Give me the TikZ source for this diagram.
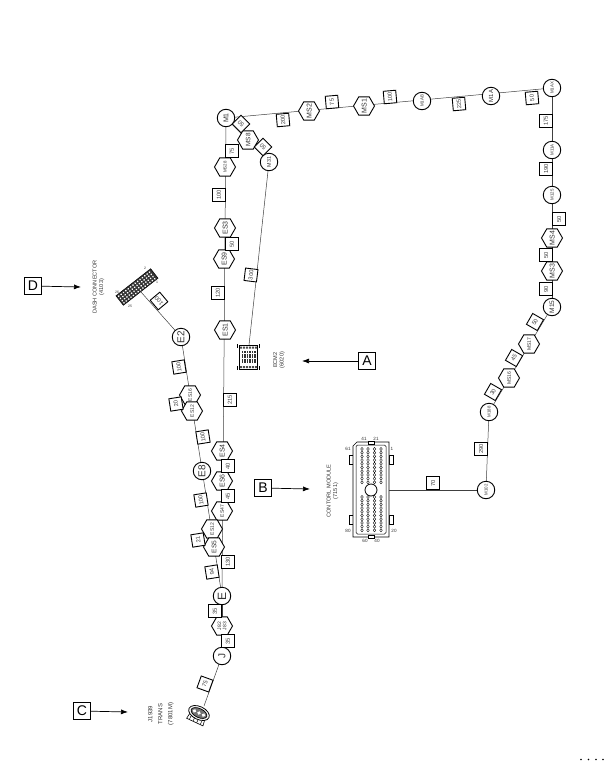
\documentclass[tikz,border=0pt]{standalone}
\usepackage{fontspec}
\setmainfont{Liberation Sans}
\usetikzlibrary{shapes.geometric,backgrounds,arrows.meta}
\newcommand\hx[1]{\makebox[0pt]{\raisebox{-0.69ex}[0pt][0pt]{#1}}}
\tikzset{
  x=1pt,y=-1pt,
  wire/.style={line width=0.5pt,draw=black!75},
  tagbox/.style={draw,line width=0.9pt,fill=white,minimum size=12.5pt,inner sep=0pt,font=\fontsize{5.8}{6}\selectfont,text=black!75},
  circ/.style={circle,draw,line width=0.9pt,fill=white,minimum size=17.5pt,inner sep=0pt,rotate=90,text=black!80},
  hexa/.style={regular polygon,regular polygon sides=6,regular polygon rotate=30,draw,line width=0.9pt,fill=white,minimum size=21pt,inner sep=0pt,rotate=90,text=black!80},
  big/.style={font=\fontsize{10}{11}\selectfont},
  med/.style={font=\fontsize{7}{8}\selectfont},
  sml/.style={font=\fontsize{4.4}{5}\selectfont},
  callout/.style={draw,line width=0.9pt,fill=white,minimum size=17pt,inner sep=0pt,font=\fontsize{14}{15}\selectfont},
  pointer/.style={line width=0.7pt,-{Latex[length=7pt,width=5pt]}},
  caption/.style={rotate=90,align=center,font=\fontsize{5.6}{6.6}\selectfont,text=black!80},
  pinlabel/.style={font=\fontsize{4.6}{5}\selectfont,text=black!80,inner sep=0pt}
}
\begin{document}
\begin{tikzpicture}
\useasboundingbox (0,0) rectangle (610,761);
% top run
\node[circ,med] (M1) at (226,118) {M1};
\node[hexa,sml,font=\fontsize{6.4}{7}\selectfont] (MS8) at (248,140) {\hx{MS8}};
\node[circ,sml,font=\fontsize{5.4}{6}\selectfont] (M31) at (269,162) {M31};
\node[hexa,med] (MS2) at (309,111) {\hx{MS2}};
\node[hexa,med] (MS1) at (364,106) {\hx{MS1}};
\node[circ,sml] (M1AB) at (422,101) {M1AB};
\node[circ,med,font=\fontsize{6}{7}\selectfont] (M1A) at (491,96) {M1A};
\node[circ,sml] (M1AX) at (552,88) {M1AX};
% right run
\node[circ,sml] (M11A) at (552,150) {M11A};
\node[circ,sml] (M12B) at (552,195) {M125};
\node[hexa,med] (MS4) at (552,238) {\hx{MS4}};
\node[hexa,med] (MS3) at (552,271) {\hx{MS3}};
\node[circ,med,font=\fontsize{6.5}{7}\selectfont] (M15) at (552,307) {M15};
\node[hexa,sml,font=\fontsize{5}{6}\selectfont] (MS17) at (529,344) {\hx{MS17}};
\node[hexa,sml,font=\fontsize{5}{6}\selectfont] (MS16) at (509,378) {\hx{MS16}};
\node[circ,sml] (M188) at (489,412) {M188};
\node[circ,sml] (M102) at (486,490) {M102};
% main trunk
\node[hexa,sml] (MS28) at (225,167) {\hx{MS28}};
\node[hexa,med] (ES3) at (225,228) {\hx{ES3}};
\node[hexa,med] (ES9) at (224,259) {\hx{ES9}};
\node[hexa,med] (ES1) at (225,330) {\hx{ES1}};
\node[hexa,med] (ES4) at (222,451) {\hx{ES4}};
\node[hexa,med] (ES6) at (222,481) {\hx{ES6}};
\node[hexa,sml,font=\fontsize{5}{6}\selectfont] (ES47) at (222,511) {\hx{ES47}};
\node[circ,big,font=\fontsize{12}{13}\selectfont] (E) at (222,596) {E};
\node[hexa,font=\fontsize{5}{5.4}\selectfont,align=center] (J82) at (222,626) {J82\\J83};
\node[circ,big] (J) at (222,656) {J};
% branch to dash
\node[hexa,sml,font=\fontsize{5}{6}\selectfont] (ES12b) at (212,529) {\hx{ES12}};
\node[hexa,med,font=\fontsize{6.6}{7}\selectfont] (ES5) at (214,547) {\hx{ES5}};
\node[circ,big] (E8) at (202,471) {E8};
\node[hexa,sml,font=\fontsize{5}{6}\selectfont] (ES16) at (190,395) {\hx{ES16}};
\node[hexa,sml,font=\fontsize{5}{6}\selectfont] (ES12) at (192,411) {\hx{ES12}};
\node[circ,big] (E2) at (181,337) {E2};
% length tags
\foreach \nm/\px/\py/\rt/\tx in {
 a1/241/124/135/50, a2/263/147/135/50, a3/232/151/90/75, a4/219/195/90/100, a5/232/244/90/50,
 a6/283/120/95/200, a7/332/102/95/75, a8/390/97/95/100, a9/251/275/83/300, a10/459/104/95/225,
 a11/532/98/95/50, a12/546/121/90/175, a13/546/169/90/190, a14/559/219/90/50, a15/546/255/90/50,
 a16/546/289/90/90, a17/535/322/60/50, a18/514/358/60/45, a19/493/392/60/30, a20/481/449/90/290,
 a21/433/483/90/70, a22/159/301/130/100, a23/179/367/99/100, a24/176/404/99/20, a25/203/437/99/100,
 a26/230/400/90/215, a27/228/466/90/40, a28/218/293/90/120, a29/228/496/90/45, a30/201/500/99/100,
 a31/198/540/99/21, a32/228/562/90/130, a33/212/572/99/94, a34/215/611/90/35, a35/228/641/90/35,
 a36/205/684/70/75}
 {\node[tagbox,rotate=\rt] (\nm) at (\px,\py) {\tx};}
% callouts
\node[callout] (boxA) at (367,361) {A};
\coordinate (tipA) at (302,361);
\node[callout] (boxB) at (263,488) {B};
\coordinate (tipB) at (310,489);
\node[callout] (boxC) at (82,711) {C};
\coordinate (tipC) at (128,712);
\node[callout] (boxD) at (33,286) {D};
\coordinate (tipD) at (81,287);
\draw[pointer] (boxA) -- (tipA);
\draw[pointer] (boxB) -- (tipB);
\draw[pointer] (boxC) -- (tipC);
\draw[pointer] (boxD) -- (tipD);
% captions
\node[caption] (capD) at (98.5,287) {DASH CONNECTOR\\(4103)};
\node[caption] (capE) at (279,360) {ECM2\\(6020)};
\node[caption] (capB) at (332.5,491) {CONTORL MODULE\\(7151)};
\node[caption,font=\fontsize{6}{10}\selectfont] (capC) at (161,714) {J1939\\TRANS\\(7801M)};
% control module
\coordinate (cmR) at (389,490);
\draw[line width=0.6pt,fill=white] (349,455) rectangle (353,464) (349,515) rectangle (353,524) (389,455) rectangle (393,464) (389,515) rectangle (393,524);
\draw[line width=0.6pt,fill=white] (357,442) -- (389,442) -- (389,537) -- (353,537) -- (353,446) -- cycle;
\draw[line width=0.5pt,rounded corners=1.5pt] (356,445) rectangle (386,534);
\draw[line width=0.5pt,fill=white] (368,441) rectangle (374,444) (368,535) rectangle (374,538);
\foreach \cx in {362,368,374.5,381}{
  \foreach \cy in {449,452.7,456.4,460.1,463.8,467.5,471.2,474.9,478.6,482.3,497,500.7,504.4,508.1,511.8,515.5,519.2,522.9,526.6,530.3}
    \draw[line width=0.35pt] (\cx,\cy) ellipse (1.3 and 1.6);
}
\node[circle,draw,line width=0.8pt,fill=white,minimum size=12pt,inner sep=0pt] (cmHub) at (371,490) {};
\node[pinlabel] (p41) at (364,439) {41};
\node[pinlabel] (p21) at (376,439) {21};
\node[pinlabel] (p61) at (348,449) {61};
\node[pinlabel] (p1) at (392,449) {1};
\node[pinlabel] (p80) at (348,531) {80};
\node[pinlabel] (p20) at (394,531) {20};
\node[pinlabel] (p60) at (365,541) {60};
\node[pinlabel] (p40) at (377,541) {40};
% ECM2 connector
\coordinate (ecmTop) at (249,345);
\begin{scope}[shift={(248,357)}]
\draw[line width=0.5pt] (-9,-12) rectangle (9,12);
\draw[line width=0.5pt] (-11,-13) -- (-11,-9) (11,-13) -- (11,-9) (-11,9) -- (-11,13) (11,9) -- (11,13);
\foreach \i in {-6.5,-4,...,7}{\foreach \j in {-6,-3.4,...,7}{
  \fill[black!80] (\i,\j) rectangle +(1.9,2);}}
\foreach \i in {-8,-5,...,7}{\fill[black!70] (\i,-10.5) rectangle +(2,2.2) (\i,9) rectangle +(2,2.2);}
\end{scope}
% dash connector
\coordinate (dashEnd) at (141,292);
\begin{scope}[shift={(137,287)},rotate=38]
\draw[line width=0.5pt,fill=black!80] (-22,-6) rectangle (22,6);
\foreach \i in {-20,-17,...,21}{\foreach \j in {-4,-1.2,1.6,4.4}{
  \fill[white] (\i,\j) circle (0.95);}}
\end{scope}
\node[pinlabel,font=\fontsize{3.5}{4}\selectfont] (d1) at (117,292) {26};
\node[pinlabel,font=\fontsize{3.5}{4}\selectfont] (d2) at (130,306) {25};
\node[pinlabel,font=\fontsize{3.5}{4}\selectfont] (d3) at (145,268) {2};
\node[pinlabel,font=\fontsize{3.5}{4}\selectfont] (d4) at (157,282) {1};
% trans connector
\coordinate (transEnd) at (204,706);
\begin{scope}[shift={(199,713)},rotate=-25]
\draw[line width=0.6pt,fill=white] (-8,3) -- (-9,10) -- (9,10) -- (8,3);
\draw[line width=0.5pt] (-6,6) -- (-6,10) (-2,6) -- (-2,10) (2,6) -- (2,10) (6,6) -- (6,10);
\draw[line width=0.8pt,fill=white] (0,0) ellipse (11 and 6.5);
\draw[line width=0.7pt,fill=black!55] (0,0) ellipse (8.5 and 4.5);
\foreach \i in {-5,0,5} \fill[white] (\i,0) circle (1.9);
\end{scope}
% clipped marks at the bottom edge
\foreach \i in {581,588.5,596,603} \fill[black] (\i,759.5) circle (0.9);
% wires
\begin{scope}[on background layer]
\fill[white] (0,0) rectangle (610,761);
\draw[wire] (M1.center) -- (M1AX.center);
\draw[wire] (M1.center) -- (E.center);
\draw[wire] (M1.center) -- (M31.center);
\draw[wire] (M31.center) -- (ecmTop);
\draw[wire] (M1AX.center) -- (M15.center);
\draw[wire] (M15.center) -- (M188.center);
\draw[wire] (M188.center) -- (M102.center);
\draw[wire] (M102.center) -- (cmR);
\draw[wire] (E.center) -- (J.center);
\draw[wire] (J.center) -- (transEnd);
\draw[wire] (E.center) -- (E2.center);
\draw[wire] (E2.center) -- (dashEnd);
\end{scope}
\end{tikzpicture}
\end{document}
